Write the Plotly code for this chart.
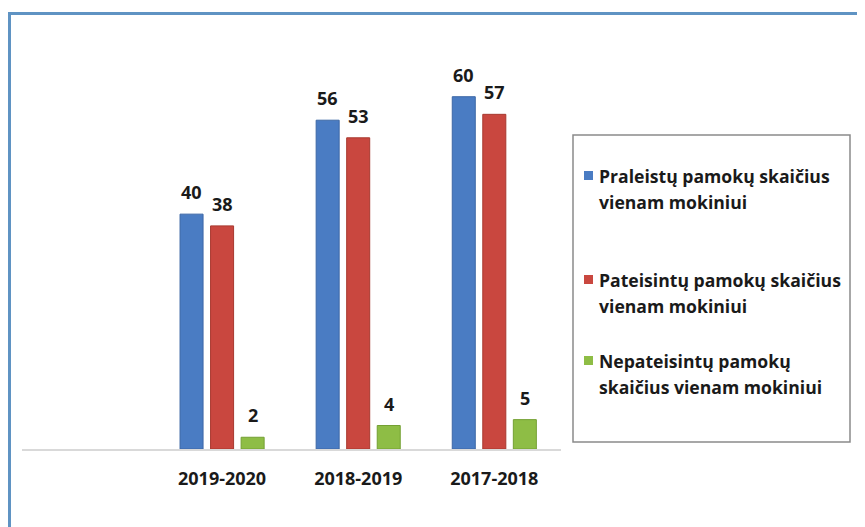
import plotly.graph_objects as go

categories = ["2019-2020", "2018-2019", "2017-2018"]
series_names = [
    "Praleistų pamokų skaičius<br>vienam mokiniui",
    "Pateisintų pamokų skaičius<br>vienam mokiniui",
    "Nepateisintų pamokų<br>skaičius vienam mokiniui",
]
praleistu = [40, 56, 60]
pateisintu = [38, 53, 57]
nepateisintu = [2, 4, 5]
series_values = [praleistu, pateisintu, nepateisintu]
colors = ["#4a7cc3", "#c9473f", "#8ebd45"]
edge_colors = ["#3c67a6", "#a8392f", "#74a033"]

OFF = 8  # page body margin offset
W, H = 865 - OFF, 527 - OFF
# target pixel geometry (page coordinates)
PL, PR, PT, PB = 22, 561, 38, 449
L, T = PL - OFF, PT - OFF
R = W - (PR - OFF)
B = H - (PB - OFF)
pw = PR - PL
ph = PB - PT

def px_x(p):
    return (p - PL) / pw

def px_y(p):
    return (PB - p) / ph

FONT = "Open Sans"
TXT = "#1a1a1a"

fig = go.Figure()
for name, vals, col, ec in zip(series_names, series_values, colors, edge_colors):
    fig.add_trace(go.Bar(
        x=categories, y=vals, name=name.replace("<br>", " "),
        marker=dict(color=col, line=dict(width=1, color=ec)),
        showlegend=False,
    ))

annotations = []
slot_px = 30.5
for i, vals in enumerate(series_values):
    for c, v in zip(categories, vals):
        annotations.append(dict(
            x=c, y=v, xref="x", yref="y", text=f"<b>{v}</b>", showarrow=False,
            xshift=(i - 1) * slot_px, yshift=8, yanchor="bottom",
            font=dict(family=FONT, size=18, color=TXT),
        ))

shapes = []
# outer frame (top and left)
shapes.append(dict(type="line", xref="paper", yref="paper",
                   x0=px_x(9.5), x1=px_x(900), y0=px_y(13.5), y1=px_y(13.5),
                   line=dict(color="#5f93c3", width=3)))
shapes.append(dict(type="line", xref="paper", yref="paper",
                   x0=px_x(9.5), x1=px_x(9.5), y0=px_y(12), y1=px_y(560),
                   line=dict(color="#5f93c3", width=3)))
# legend box
shapes.append(dict(type="rect", xref="paper", yref="paper",
                   x0=px_x(573), x1=px_x(850), y0=px_y(442), y1=px_y(135),
                   line=dict(color="#8a8a8a", width=1.5), fillcolor="rgba(0,0,0,0)"))
cap_tops = [168, 272, 353]
line_step = 26
for name, col, ct in zip(series_names, colors, cap_tops):
    shapes.append(dict(type="rect", xref="paper", yref="paper",
                       x0=px_x(584), x1=px_x(593), y0=px_y(ct + 12), y1=px_y(ct + 3),
                       line=dict(width=0), fillcolor=col))
    for k, line in enumerate(name.split("<br>")):
        annotations.append(dict(
            x=px_x(597), y=px_y(ct - 6 + k * line_step), xref="paper", yref="paper",
            text=f"<b>{line}</b>", showarrow=False, xanchor="left", yanchor="top",
            align="left", font=dict(family=FONT, size=17.6, color=TXT),
        ))

fig.update_layout(
    width=W, height=H,
    margin=dict(l=L, r=R, t=T, b=B, pad=0),
    paper_bgcolor="white", plot_bgcolor="white",
    barmode="group", bargap=0.327, bargroupgap=0.246,
    showlegend=False,
    xaxis=dict(type="category", range=[-1.47, 2.49], showgrid=False,
               showline=True, linecolor="#d9d9d9", linewidth=1.5,
               ticks="", ticklabelstandoff=13,
               tickfont=dict(family=FONT, size=18, color=TXT),
               tickprefix="<b>", ticksuffix="</b>", zeroline=False),
    yaxis=dict(range=[0, 70], visible=False, showgrid=False, zeroline=False),
    shapes=shapes, annotations=annotations,
    font=dict(family=FONT),
)

fig.write_html("out.html")
